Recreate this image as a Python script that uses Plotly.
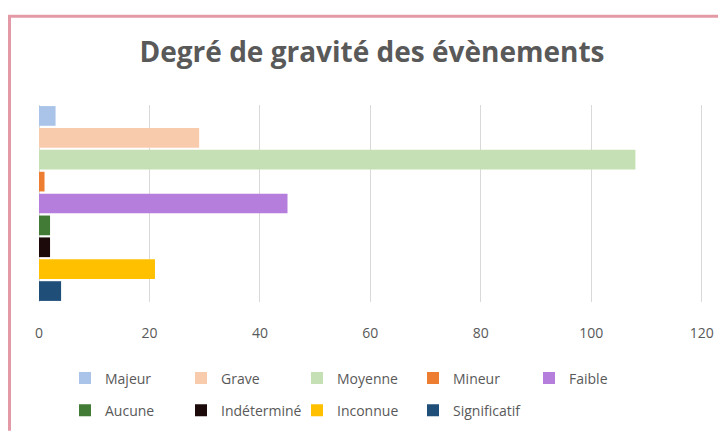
import plotly.graph_objects as go

# Data
categories = ["Majeur", "Grave", "Moyenne", "Mineur", "Faible",
              "Aucune", "Indéterminé", "Inconnue", "Significatif"]
values = [3, 29, 108, 1, 45, 2, 2, 21, 4]
colors = ["#A9C4E8", "#F8CBAD", "#C5E0B4", "#ED7D31", "#B57EDC",
          "#417B36", "#1C0A0A", "#FFC000", "#1F4E79"]
x_ticks = [0, 20, 40, 60, 80, 100, 120]

title_text = "Degré de gravité des évènements"

fig = go.Figure()
for i, (cat, val, col) in enumerate(zip(categories, values, colors)):
    fig.add_trace(go.Bar(
        y=[cat], x=[val], name=cat, orientation="h",
        marker=dict(color=col, line=dict(width=0)),
        legend="legend" if i < 5 else "legend2",
    ))

# The page body adds an 8px margin, so the figure is drawn 8px smaller
# and all page-pixel positions are shifted by 8.
OFF = 8
W, H = 726 - OFF, 439 - OFF
L, R, T, B = 39 - OFF, 21, 105 - OFF, 132
pw, ph = W - L - R, H - T - B


def px_x(px):
    return (px - OFF - L) / pw


def px_y(py):
    return (H - B - (py - OFF)) / ph


legend_font = dict(family="Open Sans", size=14, color="#595959")

fig.update_layout(
    width=W, height=H,
    margin=dict(l=L, r=R, t=T, b=B),
    paper_bgcolor="white",
    plot_bgcolor="white",
    barmode="overlay",
    bargap=0.1,
    title=dict(text=title_text, x=(372 - OFF) / W, xanchor="center",
               y=1 - (52 - OFF) / H, yanchor="middle", yref="container",
               font=dict(family="Open Sans", size=28, color="#595959",
                         weight="bold")),
    xaxis=dict(range=[0, 120.6], tickvals=x_ticks, showgrid=True,
               gridcolor="#D9D9D9", gridwidth=1, zeroline=True,
               zerolinecolor="#D9D9D9", zerolinewidth=1, ticks="",
               showline=False, ticklabelstandoff=21,
               tickfont=dict(family="Open Sans", size=14, color="#595959")),
    yaxis=dict(categoryorder="array", categoryarray=categories,
               autorange="reversed", showticklabels=False, showgrid=False,
               zeroline=False, ticks=""),
    legend=dict(orientation="h", x=px_x(65), xanchor="left",
                y=px_y(369), yanchor="top", entrywidth=71,
                entrywidthmode="pixels", font=legend_font,
                bgcolor="rgba(0,0,0,0)", itemclick=False),
    legend2=dict(orientation="h", x=px_x(65), xanchor="left",
                 y=px_y(402), yanchor="top", entrywidth=71,
                 entrywidthmode="pixels", font=legend_font,
                 bgcolor="rgba(0,0,0,0)", itemclick=False),
    showlegend=True,
    shapes=[
        dict(type="line", xref="paper", yref="paper",
             x0=px_x(OFF), x1=px_x(726), y0=px_y(14), y1=px_y(14),
             line=dict(color="#E39AA6", width=3)),
        dict(type="line", xref="paper", yref="paper",
             x0=px_x(OFF + 1.5), x1=px_x(OFF + 1.5), y0=px_y(13),
             y1=px_y(439), line=dict(color="#E39AA6", width=3)),
    ],
)

fig.write_html("out.html")
